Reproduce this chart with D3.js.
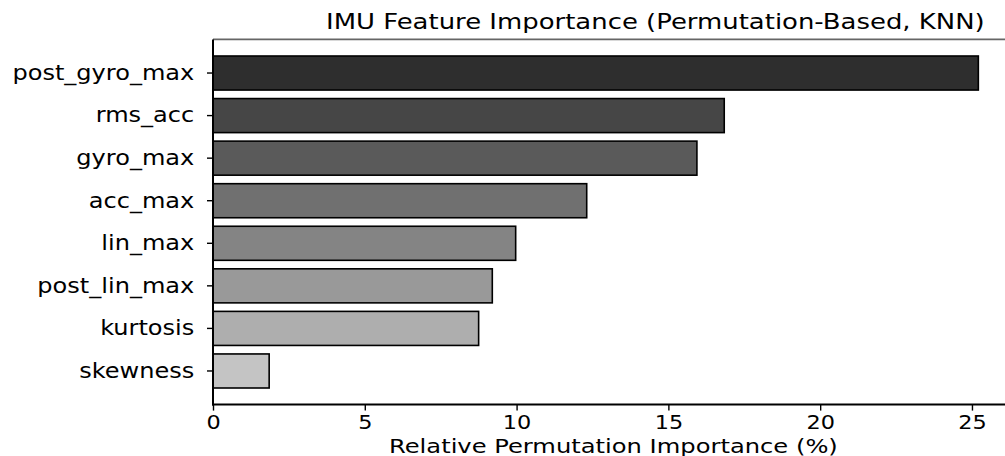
<!DOCTYPE html>
<html>
<head>
<meta charset="utf-8">
<script src="https://cdn.jsdelivr.net/npm/d3@7"></script>
<style>
  html, body { margin: 0; padding: 0; background: #fff; }
  svg { display: block; font-family: "DejaVu Sans", sans-serif; }
</style>
</head>
<body>
<svg id="chart" width="1005" height="456"></svg>
<script>
// Feature importance, sorted from most to least important
const features = ["post_gyro_max", "rms_acc", "gyro_max", "acc_max", "lin_max", "post_lin_max", "kurtosis", "skewness"];
const importance = [25.21, 16.84, 15.94, 12.31, 9.97, 9.20, 8.75, 1.85];
const barColors = ["#2e2e2e", "#464646", "#5a5a5a", "#707070", "#848484", "#999999", "#aeaeae", "#c4c4c4"];
const xTicks = [0, 5, 10, 15, 20, 25];

const titleText = "IMU Feature Importance (Permutation-Based, KNN)";
const xLabelText = "Relative Permutation Importance (%)";

const svg = d3.select("#chart");
const plot = { left: 213, right: 1017.5, top: 39.4, bottom: 404.6 };

const x = d3.scaleLinear().domain([0, 26.5]).range([plot.left, plot.right]);
const y = d3.scaleBand().domain(features).range([plot.top, plot.bottom])
  .paddingInner(0.2).paddingOuter(0.39);

// stretch a text element horizontally so it spans the given width
function fitWidth(sel, width, anchorX) {
  const w = sel.node().getComputedTextLength();
  const s = width / w;
  sel.attr("transform", `translate(${anchorX},0) scale(${s},1) translate(${-anchorX},0)`);
  return s;
}

// bars
svg.append("g").selectAll("rect")
  .data(features)
  .join("rect")
  .attr("x", x(0))
  .attr("y", d => y(d))
  .attr("width", (d, i) => x(importance[i]) - x(0))
  .attr("height", y.bandwidth())
  .attr("fill", (d, i) => barColors[i])
  .attr("stroke", "#000")
  .attr("stroke-width", 1.6);

// top spine
svg.append("line")
  .attr("x1", plot.left).attr("x2", 1005)
  .attr("y1", plot.top).attr("y2", plot.top)
  .attr("stroke", "#666").attr("stroke-width", 1.6);

// y axis
const yAxis = svg.append("g")
  .attr("transform", `translate(${plot.left},0)`)
  .call(d3.axisLeft(y).tickSize(6).tickPadding(12).tickSizeOuter(0));
yAxis.select(".domain").remove();
yAxis.selectAll(".tick line").attr("stroke", "#000").attr("stroke-width", 1.4);
yAxis.selectAll(".tick text")
  .attr("font-size", 21.5).attr("fill", "#000")
  .attr("font-family", "DejaVu Sans");

// x axis
const xAxis = svg.append("g")
  .attr("transform", `translate(0,${plot.bottom})`)
  .call(d3.axisBottom(x).tickValues(xTicks).tickFormat(d3.format("d")).tickSize(6).tickPadding(4).tickSizeOuter(0));
xAxis.select(".domain").remove();
xAxis.selectAll(".tick line").attr("stroke", "#000").attr("stroke-width", 1.4);
xAxis.selectAll(".tick text")
  .attr("font-size", 20).attr("fill", "#000")
  .attr("font-family", "DejaVu Sans");

// spines
svg.append("line")
  .attr("x1", plot.left).attr("x2", plot.left)
  .attr("y1", plot.top).attr("y2", plot.bottom + 0.8)
  .attr("stroke", "#000").attr("stroke-width", 2);
svg.append("line")
  .attr("x1", plot.left - 1).attr("x2", 1005)
  .attr("y1", plot.bottom).attr("y2", plot.bottom)
  .attr("stroke", "#000").attr("stroke-width", 2);

// horizontal stretch of the tick labels
const probe = yAxis.selectAll(".tick text").filter(d => d === features[0]);
const sx = 182 / probe.node().getComputedTextLength();
yAxis.selectAll(".tick text").attr("transform", `translate(-12,0) scale(${sx},1) translate(12,0)`);
xAxis.selectAll(".tick text").attr("transform", `scale(${sx},1)`);

// title
const title = svg.append("text")
  .attr("x", 326).attr("y", 29)
  .attr("font-size", 22).attr("fill", "#000")
  .text(titleText);
fitWidth(title, 659, 326);

// x label
const xl = svg.append("text")
  .attr("x", 389).attr("y", 453)
  .attr("font-size", 19.5).attr("fill", "#000")
  .text(xLabelText);
fitWidth(xl, 449, 389);
</script>
</body>
</html>
